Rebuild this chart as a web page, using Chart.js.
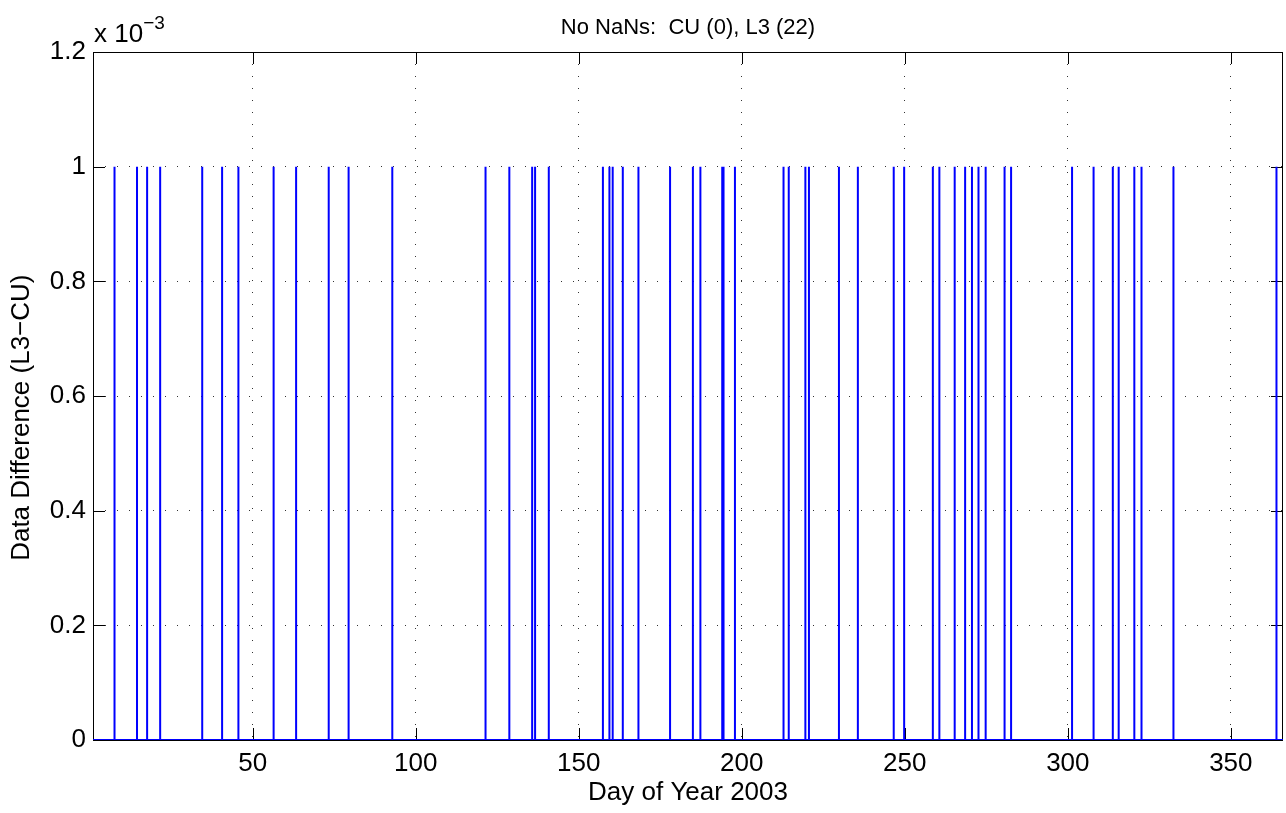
<!DOCTYPE html>
<html>
<head>
<meta charset="utf-8">
<script src="https://cdn.jsdelivr.net/npm/chart.js@4.4.1/dist/chart.umd.min.js"></script>
<style>
  html, body { margin: 0; padding: 0; background: #fff; }
  #wrap { width: 1286px; height: 813px; }
</style>
</head>
<body>
<div id="wrap"><canvas id="c" width="1286" height="813"></canvas></div>
<script>
// days where L3 and CU differ
const spikeDays = [
  7.6, 14.5, 17.6, 21.6, 34.5, 40.6, 45.6, 56.4, 63.3, 73.3, 79.4, 92.8,
  121.4, 128.7, 135.7, 136.6, 140.8, 157.4, 159.4, 160.4, 163.5, 168.3,
  178.0, 185.0, 187.3, 194.0, 194.4, 197.9, 212.8, 214.4, 219.5, 220.6,
  229.8, 235.6, 246.6, 249.8, 258.6, 260.6, 265.3, 268.5, 270.6, 272.6,
  274.8, 280.6, 282.6, 301.3, 307.9, 313.8, 315.6, 320.4, 322.6, 332.4, 364.0
];
const spikeValue = 0.001;
const dayRange = [1, 366];
const xTicks = [50, 100, 150, 200, 250, 300, 350];
const yTicks = [0, 0.0002, 0.0004, 0.0006, 0.0008, 0.001, 0.0012];
const titleText = 'No NaNs:  CU (0), L3 (22)';
const xLabel = 'Day of Year 2003';
// trailing nbsp nudges the rotated label down like the original
const yLabel = 'Data Difference (L3\u2212CU)\u00a0\u00a0\u00a0\u00a0\u00a0\u00a0';

const FONT = '"Liberation Sans", Arial, Helvetica, sans-serif';
const fontSize = 26;
const titleSize = 22;

// zero baseline, one-sample spike at every listed day
const points = [{ x: dayRange[0], y: 0 }];
spikeDays.forEach(d => {
  points.push({ x: d, y: 0 }, { x: d, y: spikeValue }, { x: d, y: 0 });
});
points.push({ x: dayRange[1], y: 0 });

const tickLen = 12;
const matlabAxes = {
  id: 'matlabAxes',
  beforeDatasetsDraw(chart) {
    const { ctx, chartArea: a, scales } = chart;
    ctx.save();
    ctx.strokeStyle = '#000';
    ctx.lineWidth = 1;
    ctx.strokeRect(a.left + 0.5, a.top + 0.5, a.right - a.left - 1, a.bottom - a.top);
    ctx.beginPath();
    xTicks.forEach(v => {
      const px = Math.round(scales.x.getPixelForValue(v)) + 0.5;
      ctx.moveTo(px, a.bottom); ctx.lineTo(px, a.bottom - tickLen);
      ctx.moveTo(px, a.top); ctx.lineTo(px, a.top + tickLen);
    });
    yTicks.forEach(v => {
      const py = Math.round(scales.y.getPixelForValue(v)) + 0.5;
      ctx.moveTo(a.left, py); ctx.lineTo(a.left + tickLen, py);
      ctx.moveTo(a.right, py); ctx.lineTo(a.right - tickLen, py);
    });
    ctx.stroke();
    ctx.restore();
  },
  afterDraw(chart) {
    const { ctx, chartArea: a } = chart;
    ctx.save();
    ctx.fillStyle = '#000';
    ctx.font = titleSize + 'px ' + FONT;
    ctx.textAlign = 'center';
    ctx.textBaseline = 'middle';
    ctx.fillText(titleText, (a.left + a.right) / 2, 28);
    // exponent label
    ctx.font = fontSize + 'px ' + FONT;
    ctx.textAlign = 'left';
    ctx.textBaseline = 'alphabetic';
    ctx.fillText('x 10', a.left + 1, 42);
    const w = ctx.measureText('x 10').width;
    ctx.font = '19px ' + FONT;
    ctx.fillText('\u22123', a.left + 1 + w, 29);
    ctx.restore();
  }
};

new Chart(document.getElementById('c'), {
  type: 'line',
  data: {
    datasets: [{
      data: points,
      borderColor: '#0000ff',
      borderWidth: 2,
      borderJoinStyle: 'bevel',
      pointRadius: 0,
      tension: 0,
      fill: false
    }]
  },
  options: {
    responsive: false,
    animation: false,
    devicePixelRatio: 1,
    layout: { padding: { top: 52, right: 3, bottom: 0, left: 0 } },
    plugins: { legend: { display: false }, tooltip: { enabled: false }, title: { display: false } },
    scales: {
      x: {
        type: 'linear',
        min: dayRange[0],
        max: dayRange[1],
        afterBuildTicks: s => { s.ticks = xTicks.map(v => ({ value: v })); },
        afterFit: s => { s.height = 73; },
        ticks: { color: '#000', font: { family: FONT, size: fontSize }, padding: 8, maxRotation: 0, autoSkip: false },
        grid: { drawTicks: false, color: '#333', lineWidth: 1 },
        border: { display: false, dash: [1, 11] },
        title: { display: true, text: xLabel, color: '#000', font: { family: FONT, size: fontSize }, padding: { top: 0, bottom: 5 } }
      },
      y: {
        type: 'linear',
        min: 0,
        max: 0.0012,
        afterBuildTicks: s => { s.ticks = yTicks.map(v => ({ value: v })); },
        afterFit: s => { s.width = 93; },
        ticks: {
          color: '#000', font: { family: FONT, size: fontSize }, padding: 7,
          callback: v => String(Math.round(v * 1e4) / 10)
        },
        grid: { drawTicks: false, color: '#333', lineWidth: 1 },
        border: { display: false, dash: [1, 11] },
        title: { display: true, text: yLabel, color: '#000', font: { family: FONT, size: fontSize }, padding: { top: 6, bottom: 0 } }
      }
    }
  },
  plugins: [matlabAxes]
});
</script>
</body>
</html>
